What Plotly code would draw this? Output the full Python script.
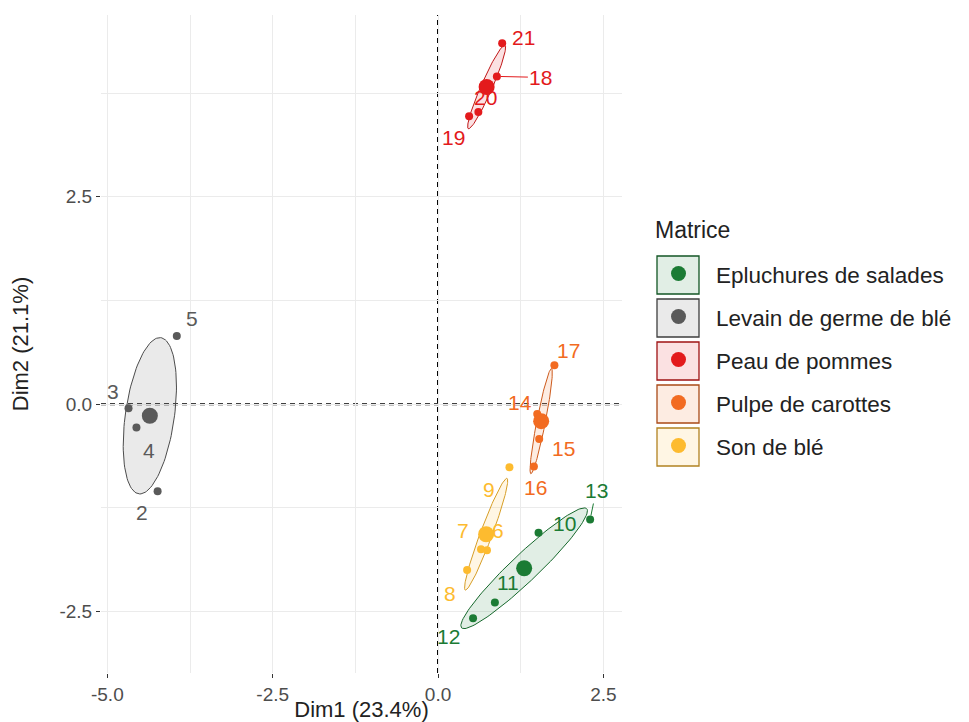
import numpy as np
import plotly.graph_objects as go

# ---- data ----
groups = ["Epluchures de salades", "Levain de germe de blé", "Peau de pommes",
          "Pulpe de carottes", "Son de blé"]
group_colors = ["#1B7B34", "#5A5A5A", "#E31A1C", "#F26B21", "#FDBB2F"]

ind_labels = ["2", "3", "4", "5", "6", "7", "8", "9", "10", "11", "12", "13",
              "14", "15", "16", "17", "18", "19", "20", "21"]
ind_group = ["Levain de germe de blé"] * 4 + ["Son de blé"] * 4 + \
            ["Epluchures de salades"] * 4 + ["Pulpe de carottes"] * 4 + \
            ["Peau de pommes"] * 4
dim1 = [-4.24, -4.68, -4.56, -3.95, 0.74, 0.65, 0.44, 1.08, 1.52, 0.86, 0.53, 2.30,
        1.50, 1.53, 1.45, 1.76, 0.89, 0.47, 0.61, 0.97]
dim2 = [-1.05, -0.05, -0.28, 0.82, -1.76, -1.75, -2.00, -0.76, -1.55, -2.39, -2.58, -1.39,
        -0.12, -0.42, -0.75, 0.47, 3.95, 3.47, 3.52, 4.35]

# label offsets in px (ggrepel placement), (dx, dy) with dy downward
label_offsets = {
    "2": (-16, 21), "3": (-16, -17), "4": (13, 23), "5": (15, -18),
    "6": (11, -20), "7": (-18, -19), "8": (-17, 23), "9": (-20, 22),
    "10": (26, -9), "11": (13, -20), "12": (-25, 18), "13": (6, -29),
    "14": (-17, -12), "15": (24, 9), "16": (2, 21), "17": (14, -15),
    "18": (44, 1), "19": (-16, 21), "20": (7, -15), "21": (21, -6),
}
segment_labels = ["18", "13"]

FONT = "Liberation Sans, Arial, sans-serif"

# page has an 8px body margin -> figure is drawn from (8, 8)
OFF = 8
W, H = 961, 714
L, R, T, B = 93, 347, 7, 49
PW, PH = W - L - R, H - T - B


def hex_to_rgba(hex_color, alpha):
    h = hex_color.lstrip('#')
    r, g, b = int(h[0:2], 16), int(h[2:4], 16), int(h[4:6], 16)
    return f'rgba({r}, {g}, {b}, {alpha})'


def darker(hex_color, f=0.7):
    h = hex_color.lstrip('#')
    r, g, b = [int(int(h[i:i + 2], 16) * f) for i in (0, 2, 4)]
    return f'rgb({r}, {g}, {b})'


def conf_ellipse(x, y, n_pts=120):
    # confidence ellipse of the group mean (95%, chi2 with 2 df)
    pts = np.column_stack([x, y])
    centre = pts.mean(axis=0)
    cov = np.cov(pts, rowvar=False) / len(pts)
    vals, vecs = np.linalg.eigh(cov)
    r = np.sqrt(5.991)
    t = np.linspace(0, 2 * np.pi, n_pts)
    circle = np.column_stack([np.cos(t), np.sin(t)])
    ell = centre + r * (circle * np.sqrt(vals)) @ vecs.T
    return ell[:, 0], ell[:, 1]


# page pixel -> paper coords
def px_x(px):
    return (px - OFF - L) / PW


def px_y(py):
    return (H - B - (py - OFF)) / PH


dim1 = np.array(dim1)
dim2 = np.array(dim2)
ind_group = np.array(ind_group)

fig = go.Figure()

# ===== REFERENCE LINES =====
fig.add_hline(y=0, line_dash="5px,4px", line_color="black", line_width=2, layer="below")
fig.add_vline(x=0, line_dash="5px,4px", line_color="black", line_width=2, layer="below")

# ===== ELLIPSES =====
for g, col in zip(groups, group_colors):
    m = ind_group == g
    ex, ey = conf_ellipse(dim1[m], dim2[m])
    fig.add_trace(go.Scatter(
        x=ex, y=ey, mode="lines", fill="toself",
        fillcolor=hex_to_rgba(col, 0.13),
        line=dict(color=darker(col, 0.85), width=1),
        name=g, showlegend=False, hoverinfo="skip"
    ))

# ===== POINTS =====
for g, col in zip(groups, group_colors):
    m = ind_group == g
    fig.add_trace(go.Scatter(
        x=dim1[m], y=dim2[m], mode="markers",
        marker=dict(size=8, color=col), showlegend=False
    ))
    fig.add_trace(go.Scatter(
        x=[dim1[m].mean()], y=[dim2[m].mean()], mode="markers",
        marker=dict(size=16, color=col), showlegend=False
    ))

# ===== LABELS =====
col_of = dict(zip(groups, group_colors))
for lab, g, xv, yv in zip(ind_labels, ind_group, dim1, dim2):
    dx, dy = label_offsets[lab]
    seg = lab in segment_labels
    fig.add_annotation(
        x=xv, y=yv, text=lab, showarrow=seg,
        ax=dx, ay=dy, arrowhead=0, arrowwidth=1, arrowcolor=col_of[g],
        standoff=4,
        xshift=0 if seg else dx, yshift=0 if seg else -dy,
        font=dict(family=FONT, size=21, color=col_of[g])
    )

# ===== LEGEND (drawn by hand, ggplot style keys) =====
fig.add_annotation(
    xref="paper", yref="paper", x=px_x(653), y=px_y(230),
    xanchor="left", yanchor="middle", showarrow=False, text="Matrice",
    font=dict(family=FONT, size=23, color="#222222")
)
for i, (g, col) in enumerate(zip(groups, group_colors)):
    cy = 275 + 43 * i
    fig.add_shape(
        type="rect", xref="paper", yref="paper",
        x0=px_x(657), x1=px_x(699), y0=px_y(cy - 19), y1=px_y(cy + 19),
        fillcolor=hex_to_rgba(col, 0.13), line=dict(color=darker(col), width=1.3)
    )
    fig.add_shape(
        type="circle", xref="paper", yref="paper",
        x0=px_x(671), x1=px_x(686), y0=px_y(cy - 9), y1=px_y(cy + 6),
        fillcolor=col, line=dict(color=col, width=0)
    )
    fig.add_annotation(
        xref="paper", yref="paper", x=px_x(714), y=px_y(cy),
        xanchor="left", yanchor="middle", showarrow=False, text=g,
        font=dict(family=FONT, size=22.5, color="#222222")
    )

fig.update_layout(
    width=W, height=H,
    margin=dict(l=L, r=R, t=T, b=B),
    plot_bgcolor="white", paper_bgcolor="white",
    font=dict(family=FONT, color="#222222"),
    showlegend=False,
    xaxis=dict(
        range=[-5.096, 2.782], tickvals=[-5, -2.5, 0, 2.5],
        ticktext=["-5.0", "-2.5", "0.0", "2.5"],
        showgrid=True, gridcolor="#EBEBEB", gridwidth=1,
        minor=dict(tickvals=[-3.75, -1.25, 1.25], showgrid=True,
                   gridcolor="#EBEBEB", gridwidth=1, ticks=""),
        zeroline=False, showline=False, automargin=False,
        ticks="outside", ticklen=4, tickcolor="#333333",
        tickfont=dict(size=19, color="#4D4D4D"),
        title=dict(text="Dim1 (23.4%)", font=dict(size=22, color="#222222"), standoff=0)
    ),
    yaxis=dict(
        range=[-3.24, 4.69], tickvals=[-2.5, 0, 2.5],
        ticktext=["-2.5", "0.0", "2.5"],
        showgrid=True, gridcolor="#EBEBEB", gridwidth=1,
        minor=dict(tickvals=[-1.25, 1.25, 3.75], showgrid=True,
                   gridcolor="#EBEBEB", gridwidth=1, ticks=""),
        zeroline=False, showline=False, automargin=False,
        ticks="outside", ticklen=4, tickcolor="#333333",
        tickfont=dict(size=19, color="#4D4D4D"),
        title=dict(text="Dim2 (21.1%)", font=dict(size=22, color="#222222"), standoff=26)
    ),
)

fig.write_html("out.html")
